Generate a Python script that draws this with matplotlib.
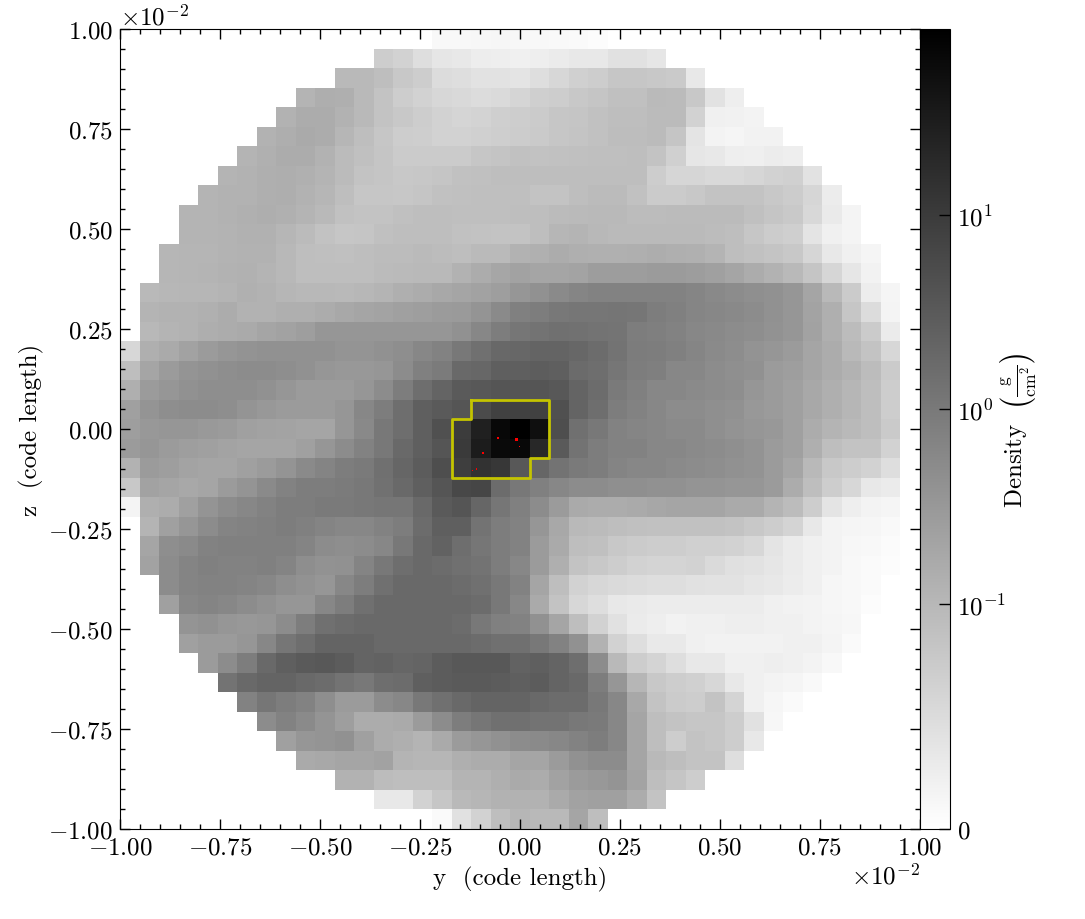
import numpy as np
import matplotlib
matplotlib.use("Agg")
import matplotlib.pyplot as plt
from matplotlib.colors import SymLogNorm
from matplotlib.ticker import ScalarFormatter, MultipleLocator

plt.rcParams['font.family'] = ['cmr10', 'DejaVu Serif']
plt.rcParams['mathtext.fontset'] = 'cm'
plt.rcParams['axes.formatter.use_mathtext'] = True

# first occupied column of each row
row_starts = [16, 13, 11, 9, 8, 7, 6, 5, 4, 3, 3, 2, 2, 1, 1, 1, 0, 0, 0, 0, 0,
              0, 0, 0, 0, 1, 1, 1, 2, 2, 3, 3, 4, 5, 6, 7, 8, 9, 11, 13, 16]

# grey level for each cell, top row first (0 black, 255 white)
r00 = [248,248,247,246,247,248,249,250,252]
r01 = [205,210,222,230,232,237,238,240,238,235,232,232,225,225,230]
r02 = [185,185,190,200,205,220,222,226,226,228,222,215,208,205,198,198,200,202,232]
r03 = [180,174,175,185,195,205,210,215,217,220,218,213,207,205,200,197,192,192,186,187,200,226,238]
r04 = [178,172,172,178,185,195,200,205,210,213,211,207,205,203,198,197,193,190,190,187,187,210,240,241,243]
r05 = [178,174,170,172,182,190,198,205,206,210,210,208,206,204,202,198,196,193,189,189,187,197,228,243,245,242,242]
r06 = [180,176,172,172,178,187,192,197,203,203,203,203,198,196,193,194,193,192,191,191,190,195,208,230,232,238,239,236,238]
r07 = [180,178,175,174,176,180,187,195,197,200,199,197,193,192,190,190,190,190,190,190,190,190,205,214,214,217,217,214,210,208,226]
r08 = [180,178,178,175,174,178,182,190,198,198,199,197,193,192,191,191,191,195,195,190,187,187,193,203,203,200,195,195,195,200,204,214,236]
r09 = [180,180,178,176,174,176,180,185,193,195,195,192,190,190,191,191,191,190,190,187,186,185,185,188,188,187,187,187,187,192,197,201,216,234,244]
r10 = [180,180,179,177,177,182,187,194,198,197,192,190,190,190,193,194,195,195,190,182,180,184,186,186,186,186,186,188,190,198,204,207,228,240,244]
r11 = [182,181,181,179,178,178,184,190,191,192,190,188,188,186,188,190,186,186,178,176,172,175,176,176,175,173,175,176,180,190,193,196,200,214,232,240,245]
r12 = [182,181,180,178,177,180,184,190,190,190,190,187,186,185,185,178,172,166,162,165,165,163,157,157,157,155,155,157,160,165,172,178,185,197,214,230,242]
r13 = [185,183,182,182,180,176,178,182,184,184,185,183,180,175,172,168,165,162,158,150,145,138,133,130,130,130,130,130,133,137,140,143,145,150,165,185,203,237,245]
r14 = [180,178,178,176,172,178,178,175,175,172,168,165,163,160,158,155,154,148,138,128,125,120,118,118,117,118,125,128,133,135,137,140,145,150,163,175,198,220,244]
r15 = [184,180,178,174,172,170,165,162,158,150,150,150,150,150,150,150,145,135,125,118,115,112,113,115,116,125,127,130,135,137,140,142,146,150,162,175,188,203,235]
r16 = [215,175,170,162,155,150,147,145,145,145,145,148,148,145,142,135,130,120,112,104,103,100,100,103,108,115,124,125,128,133,138,141,147,150,155,165,172,185,195,215]
r17 = [190,165,155,148,145,142,140,140,142,145,150,152,152,150,140,128,123,105,103,95,95,93,95,107,110,118,125,127,135,135,140,143,145,155,158,165,172,178,188,203]
r18 = [175,155,150,145,142,142,142,145,150,155,155,155,150,140,125,110,100,90,88,85,85,85,88,100,108,122,128,135,135,138,140,142,150,155,160,168,175,182,190,205]
r19 = [160,148,142,140,140,142,148,152,155,155,155,150,135,125,110,95,90,85,75,65,65,65,80,100,110,125,130,135,140,140,143,145,152,155,160,168,175,182,190,205]
r20 = [158,152,150,150,153,155,160,162,163,165,165,150,137,120,110,95,80,60,32,8,0,15,78,112,120,130,133,135,138,138,143,147,150,152,160,172,180,185,190,202]
r21 = [155,150,155,158,160,163,165,165,165,160,150,140,130,120,105,95,85,58,28,10,8,40,90,115,125,130,130,135,135,138,140,143,147,155,160,175,190,195,195,210]
r22 = [178,155,158,163,165,165,160,155,148,138,132,125,122,112,102,92,78,62,50,55,88,102,115,122,125,132,135,135,138,140,142,145,147,155,165,185,200,205,210,222]
r23 = [200,162,165,168,165,155,148,138,130,125,125,123,120,113,105,95,85,72,70,108,120,128,135,140,140,143,143,145,145,148,148,150,150,155,172,190,205,215,232,235]
r24 = [244,175,172,160,148,140,135,130,125,125,122,122,120,118,118,105,90,85,102,118,128,140,155,170,172,172,170,167,165,165,165,170,170,180,188,205,228,238,243,245]
r25 = [180,160,150,140,132,130,128,125,128,132,135,135,130,125,108,95,95,115,125,130,150,168,185,187,190,192,193,193,193,193,195,200,205,212,232,243,245,246,249]
r26 = [165,142,138,130,128,128,128,128,132,140,142,140,135,120,105,98,110,118,125,130,155,170,190,192,200,203,205,205,208,208,210,215,228,235,240,243,247,248,251]
r27 = [162,140,132,128,130,130,128,132,142,146,145,132,120,110,105,108,112,115,125,135,155,175,195,200,205,210,212,212,210,218,224,226,230,235,240,243,248,250,252]
r28 = [140,132,130,130,132,135,142,146,150,135,125,112,105,105,105,108,112,120,130,165,190,210,215,218,220,222,222,225,226,226,230,232,236,240,246,248,250]
r29 = [160,135,132,135,140,145,150,150,135,125,112,105,105,105,105,105,108,120,135,170,195,215,222,232,234,236,236,236,236,236,236,240,242,243,246,248,252]
r30 = [148,145,150,152,150,140,125,112,108,105,105,105,105,105,108,120,128,130,145,165,190,210,225,235,238,242,240,240,238,238,240,240,243,245,247]
r31 = [160,155,155,150,135,118,110,100,100,100,105,105,105,105,105,108,112,112,120,130,145,178,210,222,233,233,240,242,242,242,242,240,240,244,250]
r32 = [155,140,125,105,95,90,88,92,100,98,102,100,92,88,88,88,98,95,100,110,140,185,205,212,222,232,232,240,240,238,240,243,248]
r33 = [115,105,100,100,105,108,115,120,110,108,95,92,90,90,92,95,92,100,105,125,150,182,200,205,208,215,232,240,243,245,249]
r34 = [130,118,125,130,142,155,155,140,135,120,112,105,100,100,100,105,108,108,120,135,168,195,203,205,195,212,240,246,250]
r35 = [140,130,138,148,158,172,172,170,155,140,125,118,112,112,115,115,120,122,135,165,190,195,198,198,205,225,247]
r36 = [160,150,148,145,160,172,175,180,170,155,150,145,140,138,135,130,125,135,165,190,205,195,198,205,232]
r37 = [170,168,165,165,162,180,182,182,175,172,172,165,165,155,145,140,140,165,185,190,195,195,222]
r38 = [178,178,188,190,190,190,180,180,175,170,172,162,155,152,148,163,190,197,205]
r39 = [232,232,210,198,185,182,178,178,178,170,162,160,160,172,195]
r40 = [250,225,210,190,182,185,185,165,190]

shade_rows = [r00,r01,r02,r03,r04,r05,r06,r07,r08,r09,r10,r11,r12,r13,r14,r15,r16,r17,r18,r19,r20,
              r21,r22,r23,r24,r25,r26,r27,r28,r29,r30,r31,r32,r33,r34,r35,r36,r37,r38,r39,r40]

# yellow contour in units of 1e-2 code length
contour_y = [-0.1220, 0.0732, 0.0732, 0.0244, 0.0244, -0.1707, -0.1707, -0.1220, -0.1220]
contour_z = [0.0732, 0.0732, -0.0732, -0.0732, -0.1220, -0.1220, 0.0244, 0.0244, 0.0732]

# red particles in units of 1e-2 code length
particle_y = [-0.009, -0.055, -0.002, -0.093, -0.119, -0.109]
particle_z = [-0.026, -0.022, -0.043, -0.060, -0.103, -0.100]
particle_size = [7, 2, 1, 2, 1, 1]

cbar_ticks = [0, 0.1, 1, 10]
cbar_labels = ['$0$', '$10^{-1}$', '$10^{0}$', '$10^{1}$']

norm = SymLogNorm(linthresh=0.09, linscale=1.0, vmin=0, vmax=90, base=10)

n = len(shade_rows)
density = np.full((n, n), np.nan)
for i, (start, row) in enumerate(zip(row_starts, shade_rows)):
    vals = np.asarray(norm.inverse(1 - np.array(row, dtype=float) / 255.0))
    density[i, start:start + len(row)] = vals

edges = np.linspace(-0.01, 0.01, n + 1)

W, H = 1085, 920
fig = plt.figure(figsize=(W / 100, H / 100), dpi=100)
ax = fig.add_axes([120 / W, (H - 830) / H, 800 / W, 800 / H])
cax = fig.add_axes([920 / W, (H - 830) / H, 30 / W, 800 / H])

mesh = ax.pcolormesh(edges, edges[::-1], density, cmap='gray_r', norm=norm,
                     shading='flat', antialiased=False)

ax.plot(np.array(contour_y) * 1e-2, np.array(contour_z) * 1e-2, color='#c4c400', lw=2,
        solid_joinstyle='round')
ax.scatter(np.array(particle_y) * 1e-2, np.array(particle_z) * 1e-2, s=particle_size,
           c='red', marker='s', linewidths=0, zorder=5)

ax.set_xlim(-0.01, 0.01)
ax.set_ylim(-0.01, 0.01)

FS = 18
for axis in (ax.xaxis, ax.yaxis):
    fmt = ScalarFormatter(useMathText=True)
    fmt.set_powerlimits((0, 0))
    axis.set_major_formatter(fmt)
    axis.set_major_locator(MultipleLocator(0.0025))
    axis.set_minor_locator(MultipleLocator(0.0005))
    axis.get_offset_text().set_fontsize(FS)

ax.tick_params(which='major', direction='in', length=7, width=1, top=True, right=True,
               labelsize=FS, pad=5)
ax.tick_params(which='minor', direction='in', length=3.5, width=1, top=True, right=True)

ax.set_xlabel('y  (code length)', fontsize=FS, labelpad=6)
ax.set_ylabel('z  (code length)', fontsize=FS, labelpad=3)

cbar = fig.colorbar(mesh, cax=cax)
cbar.set_ticks(cbar_ticks, labels=cbar_labels)
cbar.minorticks_off()
cax.tick_params(which='major', direction='in', length=8, width=1, labelsize=FS, pad=5)
cbar.set_label(r'$\mathrm{Density}\ \ \left(\frac{\mathrm{g}}{\mathrm{cm}^{2}}\right)$',
               fontsize=FS, labelpad=-6)

fig.savefig('out.png', dpi=100)
